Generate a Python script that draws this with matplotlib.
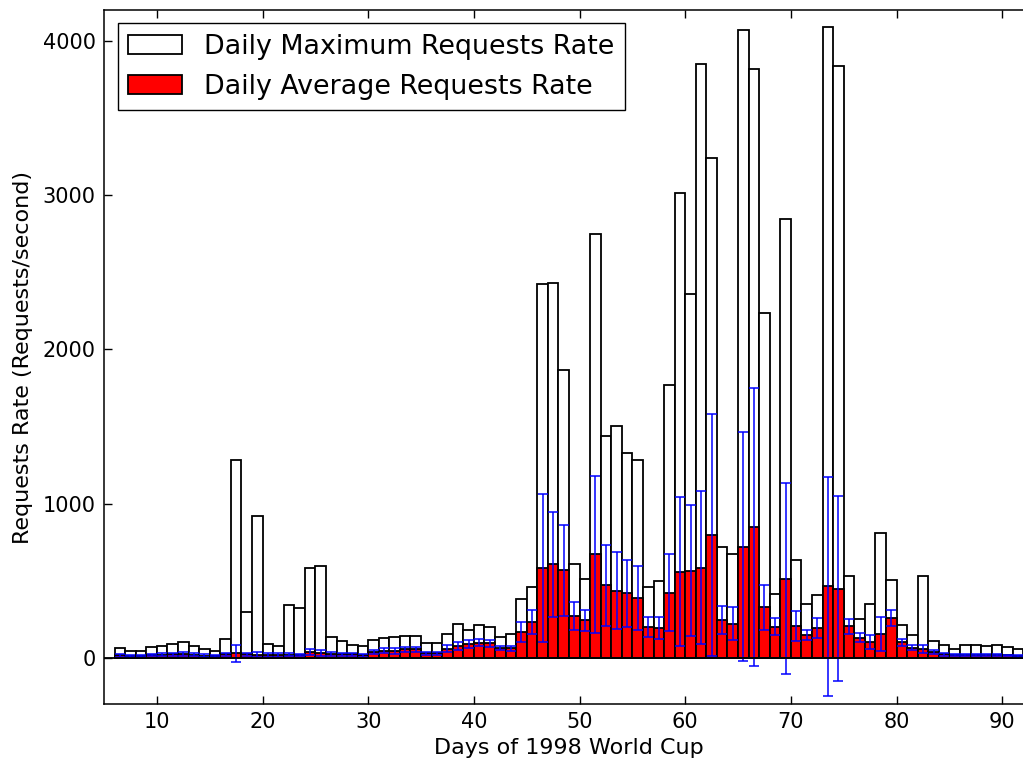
import numpy as np
import matplotlib
matplotlib.use('Agg')
import matplotlib.pyplot as plt

# days of the 1998 World Cup log (bars start at each day)
days = np.arange(6, 92)

# daily maximum request rate (requests/second)
max_rate = [63, 45, 45, 69, 78, 89, 104, 78, 56, 45,
            123, 1283, 294, 918, 91, 73, 341, 322, 585, 598,
            132, 110, 84, 76, 114, 125, 134, 140, 140, 93,
            97, 153, 218, 181, 210, 197, 132, 151, 380, 460,
            2424, 2432, 1868, 611, 508, 2750, 1441, 1501, 1328, 1285,
            456, 497, 1767, 3013, 2361, 3852, 3240, 717, 674, 4072,
            3817, 2236, 415, 2845, 635, 346, 406, 4089, 3839, 528,
            254, 348, 808, 501, 212, 147, 533, 106, 80, 58,
            84, 84, 78, 80, 71, 58]

# daily average request rate
avg_rate = [15, 11, 11, 17, 20, 22, 25, 20, 14, 11,
            22, 28, 22, 20, 20, 18, 20, 18, 35, 30,
            25, 22, 22, 15, 39, 45, 45, 54, 54, 28,
            28, 58, 76, 89, 97, 93, 65, 60, 168, 231,
            583, 605, 566, 270, 242, 670, 469, 436, 417, 389,
            197, 194, 423, 557, 564, 583, 795, 246, 220, 721,
            849, 326, 201, 512, 205, 147, 194, 462, 449, 203,
            130, 104, 156, 257, 99, 65, 54, 37, 22, 17,
            19, 19, 19, 19, 15, 13]

# standard deviation of the rate within each day
std_rate = [8, 6, 6, 8, 10, 10, 12, 10, 8, 6,
            12, 56, 12, 15, 12, 10, 10, 8, 20, 18,
            12, 12, 10, 11, 13, 16, 18, 15, 16, 11,
            11, 22, 28, 23, 24, 22, 12, 15, 65, 78,
            478, 340, 296, 90, 68, 508, 262, 248, 217, 207,
            65, 71, 248, 484, 424, 496, 784, 91, 107, 743,
            900, 143, 54, 619, 96, 31, 64, 712, 598, 50,
            31, 45, 110, 51, 23, 16, 26, 14, 8, 6,
            8, 8, 8, 7, 6, 5]

fig = plt.figure(figsize=(10.23, 7.63), dpi=100)
ax = fig.add_axes([0.1017, 0.0773, 0.909, 0.9096])

ax.bar(days, max_rate, width=1, align='edge', color='white',
       edgecolor='black', linewidth=1.3, label='Daily Maximum Requests Rate')
ax.bar(days, avg_rate, width=1, align='edge', color='red',
       edgecolor='black', linewidth=1.3, label='Daily Average Requests Rate')
ax.errorbar(days + 0.5, avg_rate, yerr=std_rate, fmt='none', ecolor='blue',
            elinewidth=1.1, capsize=3.5, capthick=1.1)
ax.axhline(0, color='black', linewidth=1.3)

ax.set_xlim(5, 93)
ax.set_ylim(-300, 4200)
ax.set_xticks(range(10, 91, 10))
ax.set_yticks([0, 1000, 2000, 3000, 4000])
ax.tick_params(direction='in', top=True, right=True, length=6, width=1,
               labelsize=15, pad=6)
for s in ax.spines.values():
    s.set_linewidth(1.1)

ax.set_xlabel('Days of 1998 World Cup', fontsize=16, labelpad=4)
ax.set_ylabel('Requests Rate (Requests/second)', fontsize=16, labelpad=7)

leg = ax.legend(loc='upper left', fontsize=19.4, fancybox=False,
                edgecolor='black', framealpha=1)
leg.get_frame().set_linewidth(1.0)

fig.savefig('out.png', dpi=100, facecolor='white')
